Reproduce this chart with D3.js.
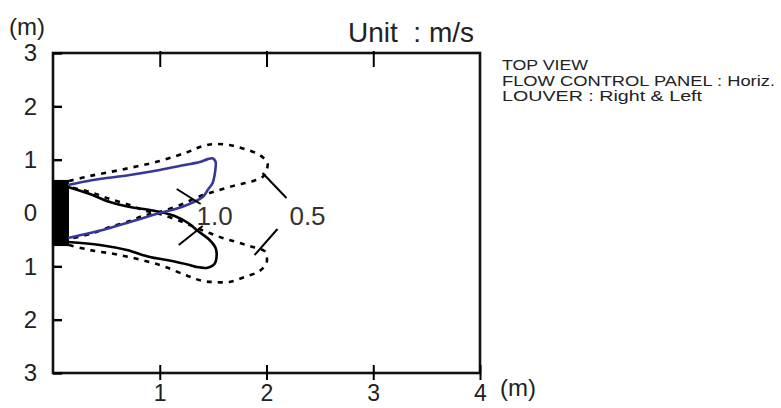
<!DOCTYPE html>
<html>
<head>
<meta charset="utf-8">
<script src="https://cdn.jsdelivr.net/npm/d3@7"></script>
<style>
  body { margin: 0; background: #fff; }
  svg { display: block; font-family: "Liberation Sans", Arial, Helvetica, sans-serif; }
</style>
</head>
<body>
<svg id="chart" width="781" height="408"></svg>
<script>
// axes
let xTicks = [1, 2, 3, 4];
let yTicks = [3, 2, 1, 0, -1, -2, -3];

// unit outlet (black block at the wall)
let unitX = [-0.01, 0.15];
let unitY = [0.62, -0.62];

// 1.0 m/s contour, left louver (blue)
let blueContour = [
    [0.14, 0.525], [0.374, 0.619], [0.72, 0.713], [1.0, 0.806], [1.234, 0.9],
    [1.374, 0.956], [1.449, 1.01], [1.495, 1.025], [1.523, 0.96], [1.523, 0.85],
    [1.514, 0.713], [1.495, 0.563], [1.449, 0.431], [1.402, 0.3], [1.206, 0.113],
    [1.0, 0.0], [0.72, -0.169], [0.533, -0.281], [0.346, -0.375], [0.14, -0.469]
];

// 1.0 m/s contour, right louver (black)
let blackContour = [
    [0.14, 0.488], [0.346, 0.356], [0.533, 0.206], [0.72, 0.113], [0.907, 0.056],
    [1.14, -0.056], [1.28, -0.206], [1.346, -0.319], [1.467, -0.506], [1.523, -0.656],
    [1.533, -0.8], [1.514, -0.95], [1.449, -1.025], [1.346, -1.013], [1.28, -0.975],
    [1.065, -0.881], [0.907, -0.825], [0.692, -0.694], [0.439, -0.6], [0.14, -0.544]
];

// 0.5 m/s contours (dashed)
let upperHalf = [
    [0.15, 0.6], [0.346, 0.694], [0.626, 0.806], [1.0, 0.975], [1.262, 1.144],
    [1.402, 1.256], [1.514, 1.294], [1.654, 1.275], [1.794, 1.2], [1.935, 1.088],
    [2.009, 0.938], [2.0, 0.806], [1.963, 0.675], [1.841, 0.581], [1.72, 0.525],
    [1.589, 0.45], [1.467, 0.375], [1.346, 0.29], [1.215, 0.169], [1.0, 0.019],
    [0.841, -0.056], [0.72, -0.15], [0.533, -0.263], [0.346, -0.394], [0.15, -0.488]
];
let lowerHalf = [
    [0.15, -0.6], [0.346, -0.694], [0.626, -0.788], [1.0, -0.975], [1.262, -1.181],
    [1.402, -1.275], [1.514, -1.294], [1.654, -1.294], [1.794, -1.2], [1.935, -1.088],
    [2.0, -0.938], [2.0, -0.8], [1.981, -0.713], [1.841, -0.619], [1.72, -0.544],
    [1.589, -0.469], [1.467, -0.375], [1.346, -0.281], [1.215, -0.169], [1.0, -0.019],
    [0.841, 0.056], [0.72, 0.15], [0.533, 0.263], [0.346, 0.394], [0.15, 0.488]
];

// label leaders and labels
let leaders = [
    [[1.159, 0.45], [1.383, 0.169]],
    [[1.178, -0.6], [1.402, -0.244]],
    [[1.963, 0.75], [2.187, 0.281]],
    [[2.103, -0.3], [1.888, -0.788]]
];
let contourLabels = [
    { text: "1.0", x: 1.345, y: -0.225 },
    { text: "0.5", x: 2.215, y: -0.225 }
];
let infoLines = ["TOP VIEW", "FLOW CONTROL PANEL : Horiz.", "LOUVER : Right & Left"];
let infoWidths = [86, 273, 200];

const svg = d3.select("#chart");

const x = d3.scaleLinear().domain([0, 4]).range([53, 480]);
const y = d3.scaleLinear().domain([3, -3]).range([53, 373]);

const line = d3.line()
    .x(d => x(d[0]))
    .y(d => y(d[1]))
    .curve(d3.curveCatmullRom.alpha(0.5));

// frame
svg.append("rect")
    .attr("x", x(0)).attr("y", y(3))
    .attr("width", x(4) - x(0)).attr("height", y(-3) - y(3))
    .style("fill", "none").style("stroke", "#111").style("stroke-width", 2.6);

// bottom axis
svg.append("g")
    .attr("transform", `translate(0,${y(-3)})`)
    .call(d3.axisBottom(x).tickValues(xTicks).tickSize(7).tickPadding(11).tickFormat(d3.format("d")))
    .call(g => g.select(".domain").remove())
    .call(g => g.selectAll(".tick line").attr("y1", -8).style("stroke-width", 2))
    .call(g => g.selectAll(".tick text").attr("y", 12).attr("dy", "0.71em")
        .style("font-size", "23px").style("fill", "#222").style("font-family", "inherit"));

// top ticks
svg.append("g")
    .attr("transform", `translate(0,${y(3)})`)
    .call(d3.axisBottom(x).tickValues([1, 2, 3]).tickSize(14).tickFormat(""))
    .call(g => g.select(".domain").remove())
    .call(g => g.selectAll(".tick line").attr("y1", -2).style("stroke-width", 2));

// left axis
svg.append("g")
    .attr("transform", `translate(${x(0)},0)`)
    .call(d3.axisLeft(y).tickValues(yTicks).tickSize(0).tickPadding(16).tickFormat(d => Math.abs(d)))
    .call(g => g.select(".domain").remove())
    .call(g => g.selectAll(".tick line").attr("x2", 9).style("stroke-width", 2.4))
    .call(g => g.selectAll(".tick text").style("font-size", "24px").style("fill", "#222")
        .style("font-family", "inherit"));

// unit block
svg.append("rect")
    .attr("x", x(unitX[0])).attr("y", y(unitY[0]))
    .attr("width", x(unitX[1]) - x(unitX[0])).attr("height", y(unitY[1]) - y(unitY[0]))
    .style("fill", "#000");

// 0.5 contours
svg.selectAll(".half")
    .data([upperHalf, lowerHalf])
    .enter()
    .append("path")
    .attr("class", "half")
    .attr("d", line)
    .style("fill", "none")
    .style("stroke", "#000")
    .style("stroke-width", 2.6)
    .style("stroke-dasharray", "5,6");

// 1.0 contours
svg.selectAll(".full")
    .data([{ pts: blackContour, col: "#000" }, { pts: blueContour, col: "#36369c" }])
    .enter()
    .append("path")
    .attr("class", "full")
    .attr("d", d => line(d.pts))
    .style("fill", "none")
    .style("stroke", d => d.col)
    .style("stroke-width", 2.6);

// leaders
svg.selectAll(".leader")
    .data(leaders)
    .enter()
    .append("line")
    .attr("class", "leader")
    .attr("x1", d => x(d[0][0])).attr("y1", d => y(d[0][1]))
    .attr("x2", d => x(d[1][0])).attr("y2", d => y(d[1][1]))
    .style("stroke", "#000").style("stroke-width", 2);

svg.selectAll(".clabel")
    .data(contourLabels)
    .enter()
    .append("text")
    .attr("class", "clabel")
    .attr("x", d => x(d.x)).attr("y", d => y(d.y))
    .style("font-size", "26px").style("fill", "#333")
    .text(d => d.text);

// unit labels
svg.append("text").attr("x", 9).attr("y", 35)
    .style("font-size", "24px").style("fill", "#222").text("(m)");
svg.append("text").attr("x", 500).attr("y", 396)
    .style("font-size", "24px").style("fill", "#222").text("(m)");
svg.append("text").attr("x", 474).attr("y", 42).attr("text-anchor", "end")
    .style("font-size", "28px").style("fill", "#222").attr("xml:space", "preserve")
    .text("Unit  : m/s");

// notes
svg.selectAll(".info")
    .data(infoLines)
    .enter()
    .append("text")
    .attr("class", "info")
    .attr("x", 502)
    .attr("y", (d, i) => 70 + i * 15.5)
    .attr("textLength", (d, i) => infoWidths[i])
    .attr("lengthAdjust", "spacingAndGlyphs")
    .style("font-size", "15.5px").style("fill", "#222")
    .text(d => d);
</script>
</body>
</html>
